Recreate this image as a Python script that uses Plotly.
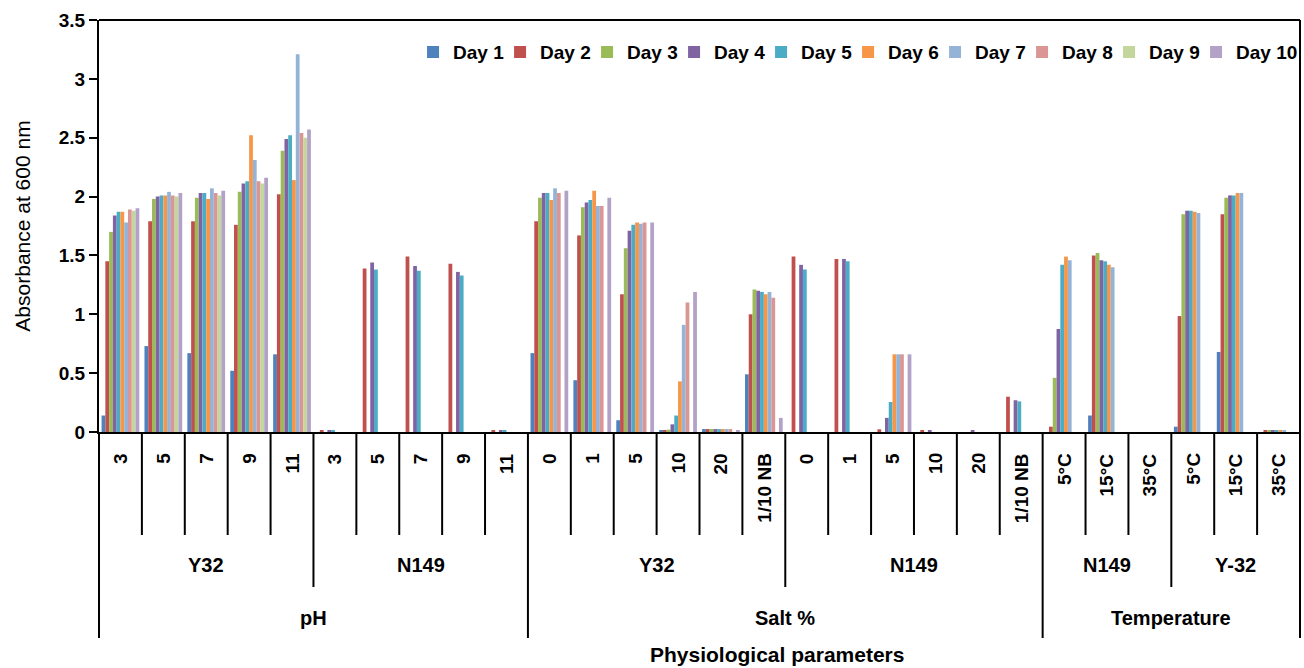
import plotly.graph_objects as go

# ---- data -------------------------------------------------------------
days = ["Day 1", "Day 2", "Day 3", "Day 4", "Day 5",
        "Day 6", "Day 7", "Day 8", "Day 9", "Day 10"]

conditions = ["3", "5", "7", "9", "11",
              "3", "5", "7", "9", "11",
              "0", "1", "5", "10", "20", "1/10 NB",
              "0", "1", "5", "10", "20", "1/10 NB",
              "5°C", "15°C", "35°C",
              "5°C", "15°C", "35°C"]

isolates = ["Y32", "N149", "Y32", "N149", "N149", "Y-32"]
isolate_sizes = [5, 5, 6, 6, 3, 3]

parameters = ["pH", "Salt %", "Temperature"]
parameter_sizes = [10, 12, 6]

N = None  # no reading
day1 = [0.14, 0.73, 0.67, 0.52, 0.66, N, N, N, N, N,
        0.67, 0.44, 0.10, 0.01, 0.025, 0.49, N, N, N, N, N, N,
        N, 0.14, N, 0.045, 0.68, N]
day2 = [1.45, 1.79, 1.79, 1.76, 2.02, 0.015, 1.39, 1.49, 1.43, 0.015,
        1.79, 1.67, 1.17, 0.01, 0.025, 1.00, 1.49, 1.47, 0.023, 0.012, N, 0.30,
        0.045, 1.50, N, 0.985, 1.85, 0.012]
day3 = [1.70, 1.98, 1.99, 2.04, 2.39, N, N, N, N, N,
        1.99, 1.91, 1.56, 0.02, 0.025, 1.21, N, N, N, N, N, N,
        0.46, 1.52, N, 1.85, 1.99, 0.012]
day4 = [1.84, 2.00, 2.03, 2.11, 2.49, 0.015, 1.44, 1.41, 1.36, 0.015,
        2.03, 1.95, 1.71, 0.065, 0.025, 1.20, 1.42, 1.47, 0.12, 0.01, 0.01, 0.27,
        0.875, 1.46, N, 1.88, 2.01, 0.012]
day5 = [1.87, 2.01, 2.03, 2.13, 2.52, 0.015, 1.38, 1.37, 1.33, 0.015,
        2.03, 1.97, 1.76, 0.14, 0.025, 1.19, 1.38, 1.45, 0.255, N, N, 0.26,
        1.42, 1.45, N, 1.88, 2.01, 0.012]
day6 = [1.87, 2.01, 1.98, 2.52, 2.14, N, N, N, N, N,
        1.97, 2.05, 1.78, 0.43, 0.025, 1.17, N, N, 0.66, N, N, N,
        1.49, 1.42, N, 1.87, 2.03, 0.012]
day7 = [1.78, 2.04, 2.07, 2.31, 3.21, N, N, N, N, N,
        2.07, 1.92, 1.77, 0.91, 0.025, 1.19, N, N, 0.66, N, N, N,
        1.46, 1.40, N, 1.86, 2.03, 0.012]
day8 = [1.89, 2.01, 2.03, 2.13, 2.54, N, N, N, N, N,
        2.03, 1.92, 1.78, 1.10, 0.025, 1.14, N, N, 0.66, N, N, N,
        N, N, N, N, N, N]
day9 = [1.88, 2.00, 2.01, 2.11, 2.50, N, N, N, N, N,
        N, N, N, N, N, N, N, N, N, N, N, N,
        N, N, N, N, N, N]
day10 = [1.90, 2.03, 2.05, 2.16, 2.57, N, N, N, N, N,
         2.05, 1.99, 1.78, 1.19, 0.015, 0.12, N, N, 0.66, N, N, N,
         N, N, N, N, N, N]
series = [day1, day2, day3, day4, day5, day6, day7, day8, day9, day10]

colors = ["#4F81BD", "#C0504D", "#9BBB59", "#8064A2", "#4BACC6",
          "#F79646", "#95B3D7", "#D99694", "#C3D69B", "#B3A2C7"]

yticks = [0, 0.5, 1, 1.5, 2, 2.5, 3, 3.5]
ytick_text = ["0", "0.5", "1", "1.5", "2", "2.5", "3", "3.5"]

# ---- figure -----------------------------------------------------------
FONT = "Liberation Sans, Arial, sans-serif"
positions = list(range(len(conditions)))
n_cat = len(conditions)

fig = go.Figure()
for name, vals, col in zip(days, series, colors):
    fig.add_trace(go.Bar(x=positions, y=vals, name=name,
                         marker=dict(color=col, line=dict(width=0))))
# empty legend slot so the last entry's text has room in the legend box
fig.add_trace(go.Scatter(x=[None], y=[None], mode="lines", name=" ",
                         line=dict(width=0, color="rgba(0,0,0,0)"),
                         hoverinfo="skip"))

# pixel-row helper for the area below the plot (plot spans 412 px high)
PLOT_H = 412.0
def below(px):
    return -px / PLOT_H

shapes = []
# frame: top and right edges
shapes.append(dict(type="line", xref="paper", yref="paper",
                   x0=0, x1=1, y0=1, y1=1, line=dict(color="black", width=2)))
shapes.append(dict(type="line", xref="paper", yref="paper",
                   x0=1, x1=1, y0=1, y1=below(206), line=dict(color="black", width=2)))

# divider lines of the three-level category axis
param_edges, iso_edges = set(), set()
acc = 0
for s in parameter_sizes:
    acc += s
    param_edges.add(acc)
acc = 0
for s in isolate_sizes:
    acc += s
    iso_edges.add(acc)
for k in range(n_cat):
    if k == 0 or k in param_edges:
        depth = below(206)
    elif k in iso_edges:
        depth = below(155)
    else:
        depth = below(103)
    shapes.append(dict(type="line", xref="paper", yref="paper",
                       x0=k / n_cat, x1=k / n_cat, y0=0, y1=depth,
                       line=dict(color="black", width=2)))

annotations = []
cat_font = dict(family=FONT, size=19, color="black", weight="bold")
grp_font = dict(family=FONT, size=20, color="black", weight="bold")
for i, lab in enumerate(conditions):
    annotations.append(dict(text=lab, xref="paper", yref="paper",
                            x=(i + 0.5) / n_cat, y=below(19),
                            xanchor="center", yanchor="top", textangle=-90,
                            showarrow=False, font=cat_font))
start = 0
for lab, s in zip(isolates, isolate_sizes):
    annotations.append(dict(text=lab, xref="paper", yref="paper",
                            x=(start + s / 2) / n_cat, y=below(133),
                            xanchor="center", yanchor="middle",
                            showarrow=False, font=grp_font))
    start += s
start = 0
for lab, s in zip(parameters, parameter_sizes):
    annotations.append(dict(text=lab, xref="paper", yref="paper",
                            x=(start + s / 2) / n_cat, y=below(186),
                            xanchor="center", yanchor="middle",
                            showarrow=False, font=grp_font))
    start += s
annotations.append(dict(text="Physiological parameters", xref="paper", yref="paper",
                        x=0.5645, y=below(222), xanchor="center", yanchor="middle",
                        showarrow=False,
                        font=dict(family=FONT, size=21, color="black", weight="bold")))

fig.update_layout(
    width=1304, height=668,
    margin=dict(l=99, r=4, t=20, b=236, autoexpand=False),
    paper_bgcolor="white", plot_bgcolor="white",
    barmode="group", bargap=0.12, bargroupgap=0,
    font=dict(family=FONT, color="black"),
    shapes=shapes, annotations=annotations,
    legend=dict(orientation="h", x=0.2615, xanchor="left",
                y=0.922, yanchor="middle",
                font=dict(family=FONT, size=19, color="black", weight="bold"),
                entrywidth=42, entrywidthmode="pixels",
                bgcolor="rgba(0,0,0,0)"),
    xaxis=dict(range=[-0.5, n_cat - 0.5], showticklabels=False, ticks="",
               showgrid=False, zeroline=False, showline=True,
               linecolor="black", linewidth=2),
    yaxis=dict(range=[0, 3.5], tickvals=yticks, ticktext=ytick_text,
               ticks="outside", ticklen=8, tickwidth=2, tickcolor="black",
               showgrid=False, zeroline=False, showline=True,
               linecolor="black", linewidth=2,
               tickfont=dict(family=FONT, size=19, color="black", weight="bold"),
               title=dict(text="Absorbance at 600 nm", standoff=22,
                          font=dict(family=FONT, size=21, color="black"))),
)

fig.write_html("out.html")
